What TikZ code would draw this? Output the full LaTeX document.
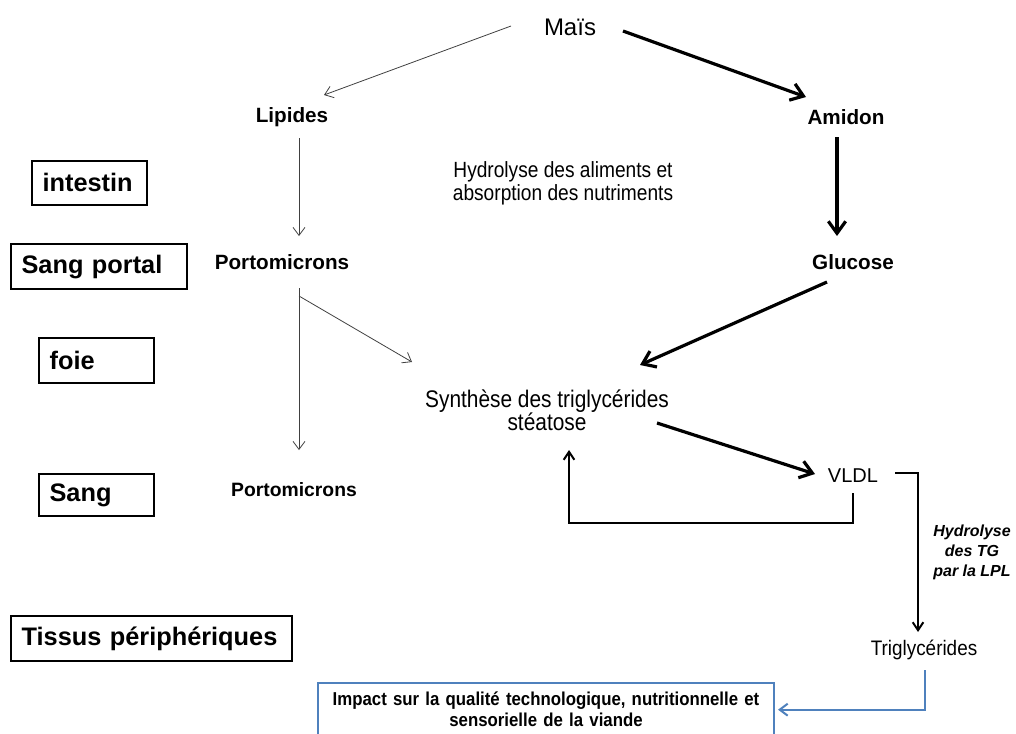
\documentclass[tikz,border=0pt]{standalone}
\usepackage{fontspec}
\setmainfont{Liberation Sans}
\newfontfamily\narrowfont[FakeStretch=0.87]{Liberation Sans}
\newfontfamily\condfont[FakeStretch=0.9]{Liberation Sans}
\usetikzlibrary{arrows.meta, calc}
\definecolor{boxblue}{RGB}{79,129,189}
\tikzset{
  zone/.style={draw, line width=1.4pt, anchor=north west, align=left,
               font=\fontsize{19}{22}\selectfont\bfseries, inner xsep=8pt, inner ysep=0pt},
  lbl/.style={font=\fontsize{15.5}{18}\selectfont\bfseries, inner sep=2pt},
  txt/.style={align=center, inner sep=2pt},
  fine/.style={-{Straight Barb[length=6pt,width=9pt]}, line width=0.6pt, black!75},
  heavy/.style={-{Straight Barb[length=9pt,width=13pt]}, line width=2.4pt},
  mid/.style={-{Straight Barb[length=6pt,width=8pt]}, line width=1.5pt},
  blueln/.style={-{Straight Barb[length=6pt,width=9pt]}, line width=1.5pt, boxblue},
}
\begin{document}
\begin{tikzpicture}[x=0.75pt, y=-0.75pt]
  \useasboundingbox (0,0) rectangle (1016,733);
  % organ labels on the left
  \node[zone, text width=70pt, minimum height=33pt] (intestin) at (31,160) {intestin};
  \node[zone, text width=116pt, minimum height=34pt] (portal) at (10,243) {Sang portal};
  \node[zone, text width=70pt, minimum height=34pt] (foie) at (38,337) {foie};
  \node[zone, text width=70pt, minimum height=31.5pt] (sang) at (38,473) {Sang};
  \node[zone, text width=195pt, minimum height=34pt] (tissus) at (10,615) {Tissus périphériques};
  % pathway
  \node[font=\fontsize{18}{21}\selectfont, inner sep=2pt] (mais) at (570,27) {Maïs};
  \node[lbl] (lipides) at (292,117) {Lipides};
  \node[lbl] (amidon) at (846,117) {Amidon};
  \node[txt, font=\narrowfont\fontsize{16.5}{17.25}\selectfont] (hydro) at (563,183) {Hydrolyse des aliments et\\absorption des nutriments};
  \node[lbl] (porto) at (282,262) {Portomicrons};
  \node[lbl] (glucose) at (853,262) {Glucose};
  \node[txt, font=\narrowfont\fontsize{18}{17.25}\selectfont] (synth) at (547,410) {Synthèse des triglycérides\\stéatose};
  \node[font=\fontsize{15}{18}\selectfont, inner sep=2pt] (vldl) at (853,476) {VLDL};
  \node[lbl, font=\fontsize{14.5}{17}\selectfont\bfseries] (portosang) at (294,490) {Portomicrons};
  \node[txt, font=\fontsize{12}{15}\selectfont\bfseries\itshape] (lpl) at (972,552) {Hydrolyse\\des TG\\par la LPL};
  \node[font=\condfont\fontsize{15.75}{18}\selectfont, inner sep=2pt] (trig) at (924,650) {Triglycérides};
  \node[draw=boxblue, line width=1.5pt, anchor=north west, minimum width=342pt, minimum height=40pt,
        align=center, text width=330pt, font=\condfont\fontsize{14}{15.75}\selectfont\bfseries] (impact) at (317,682)
        {Impact sur la qualité technologique, nutritionnelle et\\sensorielle de la viande};
  % connectors
  \draw[fine] ($(mais)+(-59,-1)$) -- ($(lipides)+(32,-22)$);
  \draw[heavy] ($(mais)+(53,4)$) -- ($(amidon)+(-40,-20)$);
  \draw[fine] ($(lipides)+(7,21)$) -- ($(porto)+(17,-26)$);
  \draw[heavy] ($(amidon)+(-9,20)$) -- ($(glucose)+(-16,-26)$);
  \draw[fine] ($(porto)+(17,26)$) -- ($(portosang)+(5,-40)$);
  \draw[fine] ($(porto)+(17,34)$) -- ($(synth)+(-135,-48)$);
  \draw[heavy] ($(glucose)+(-26,20)$) -- ($(synth)+(93,-45)$);
  \draw[heavy] ($(synth)+(110,13)$) -- ($(vldl)+(-38,-2)$);
  \draw[mid] ($(vldl)+(0,17)$) -- ++(0,30) -| ($(synth)+(22,40)$);
  \draw[mid] ($(vldl)+(42,-3)$) -| ($(trig)+(-6,-18)$);
  \draw[blueln] ($(trig)+(1,20)$) |- ($(impact.east)+(3,0)$);
\end{tikzpicture}
\end{document}
